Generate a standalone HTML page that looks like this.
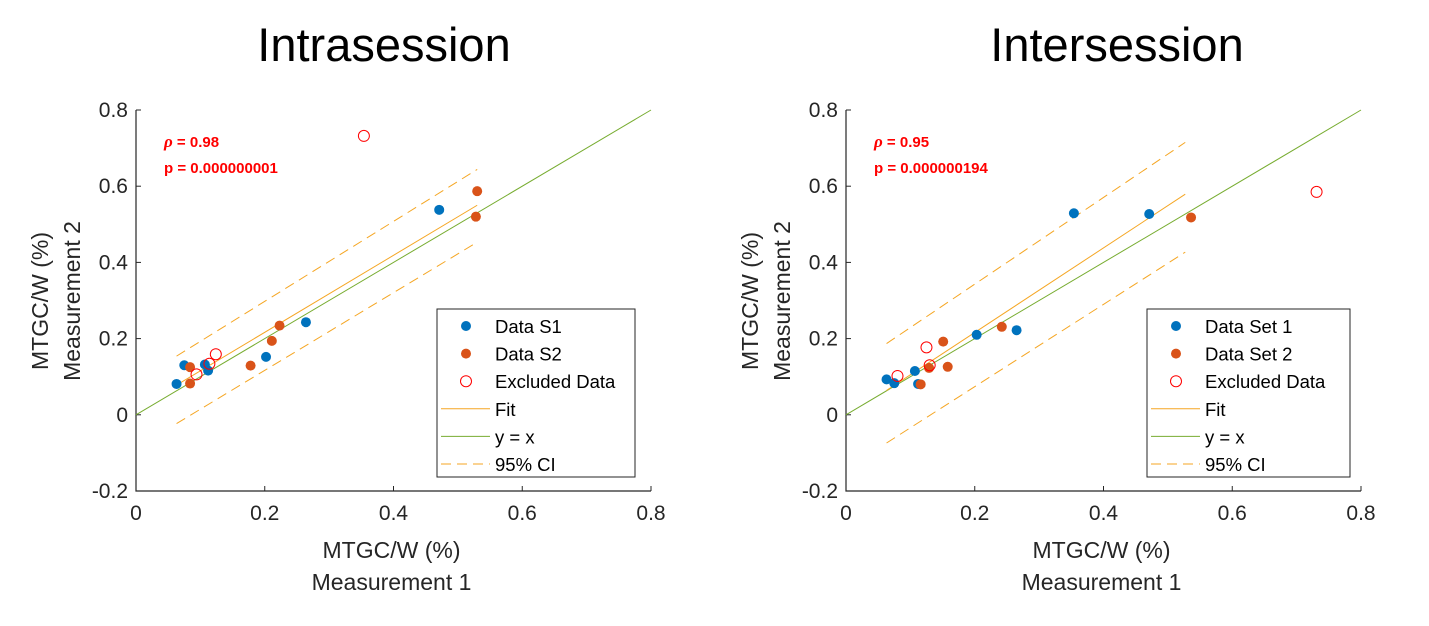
<!DOCTYPE html>
<html><head><meta charset="utf-8"><style>
body{margin:0;background:#fff;}
svg{display:block;font-family:"Liberation Sans",Arial,sans-serif;}
</style></head><body>
<svg id="fig" width="1429" height="626"></svg>
<script>
// Left panel data (Intrasession)
const leftS1X=[0.063,0.075,0.107,0.112,0.202,0.264,0.471];
const leftS1Y=[0.081,0.130,0.132,0.116,0.152,0.243,0.538];
const leftS2X=[0.084,0.084,0.178,0.211,0.223,0.530,0.528];
const leftS2Y=[0.125,0.082,0.129,0.194,0.234,0.587,0.520];
const leftExX=[0.124,0.114,0.094,0.354];
const leftExY=[0.159,0.134,0.106,0.732];
const leftFitX=[0.063,0.53];
const leftFitY=[0.078,0.550];
const leftCiUpY=[0.154,0.644];
const leftCiLoY=[-0.023,0.453];
// Right panel data (Intersession)
const rightS1X=[0.063,0.075,0.107,0.112,0.203,0.265,0.354,0.471];
const rightS1Y=[0.093,0.083,0.115,0.081,0.210,0.222,0.529,0.527];
const rightS2X=[0.116,0.129,0.158,0.151,0.242,0.536];
const rightS2Y=[0.080,0.123,0.126,0.192,0.231,0.518];
const rightExX=[0.080,0.125,0.130,0.731];
const rightExY=[0.102,0.177,0.130,0.585];
const rightFitX=[0.063,0.527];
const rightFitY=[0.064,0.579];
const rightCiUpY=[0.187,0.715];
const rightCiLoY=[-0.074,0.427];
const xTicks=[0,0.2,0.4,0.6,0.8];
const yTicks=[-0.2,0,0.2,0.4,0.6,0.8];
const xTickLabels=["0","0.2","0.4","0.6","0.8"];
const yTickLabels=["-0.2","0","0.2","0.4","0.6","0.8"];

const NS="http://www.w3.org/2000/svg";
const svg=document.getElementById('fig');
function mk(tag,attrs,parent,text){const e=document.createElementNS(NS,tag);for(const k in attrs)e.setAttribute(k,attrs[k]);if(text!==undefined)e.textContent=text;(parent||svg).appendChild(e);return e;}

function panel(o){
  const g=mk('g',{});
  
  
  const W=515;
  const L=o.left,R=o.left+W,T=110,B=491;
  const sx=v=>L+(v/0.8)*W;
  const sy=v=>B-((v+0.2)/1.0)*(B-T);
  const t=mk('text',{x:o.tx,y:61,'text-anchor':'middle','font-size':47,fill:'#000'},g,o.title);
  
  
  const ax=mk('path',{d:`M${L},${T}V${B}H${R}`,stroke:'#262626','stroke-width':1.2,fill:'none'},g);
  
  
  xTicks.forEach((v,i)=>{
    mk('line',{x1:sx(v),x2:sx(v),y1:B,y2:B-5,stroke:'#262626'},g);
    const tl=mk('text',{x:sx(v),y:B+29,'text-anchor':'middle','font-size':21,fill:'#262626'},g,xTickLabels[i]);
    
    
  });
  yTicks.forEach((v,i)=>{
    mk('line',{x1:L,x2:L+5,y1:sy(v),y2:sy(v),stroke:'#262626'},g);
    const tl=mk('text',{x:L-8,y:sy(v)+7,'text-anchor':'end','font-size':21,fill:'#262626'},g,yTickLabels[i]);
    
    
  });
  const xl1=mk('text',{x:(L+R)/2-2,y:558,'text-anchor':'middle','font-size':23,fill:'#262626'},g,'MTGC/W (%)');
  
  
  const xl2=mk('text',{x:(L+R)/2-2,y:590,'text-anchor':'middle','font-size':23,fill:'#262626'},g,'Measurement 1');
  
  
  const yl=mk('text',{transform:`translate(${L-88},301) rotate(-90)`,'text-anchor':'middle','font-size':23,fill:'#262626'},g);
  
  
  mk('tspan',{x:0,y:0},yl,'MTGC/W (%)');
  mk('tspan',{x:0,y:32},yl,'Measurement 2');
  const yx=mk('line',{x1:sx(0),y1:sy(0),x2:sx(0.8),y2:sy(0.8),stroke:'#77AC30','stroke-width':1},g);
  
  
  const fit=mk('line',{x1:sx(o.fx[0]),y1:sy(o.fy[0]),x2:sx(o.fx[1]),y2:sy(o.fy[1]),stroke:'#F5A623','stroke-width':1},g);
  
  
  const cu=mk('line',{x1:sx(o.fx[0]),y1:sy(o.cu[0]),x2:sx(o.fx[1]),y2:sy(o.cu[1]),stroke:'#F5A623','stroke-width':1,'stroke-dasharray':'10,6'},g);
  
  
  const cl=mk('line',{x1:sx(o.fx[0]),y1:sy(o.cl[0]),x2:sx(o.fx[1]),y2:sy(o.cl[1]),stroke:'#F5A623','stroke-width':1,'stroke-dasharray':'10,6'},g);
  
  
  o.s1x.forEach((v,i)=>{const c=mk('circle',{cx:sx(v),cy:sy(o.s1y[i]),r:5,fill:'#0072BD'},g);
    
    });
  o.s2x.forEach((v,i)=>{const c=mk('circle',{cx:sx(v),cy:sy(o.s2y[i]),r:5,fill:'#D95319'},g);
    
    });
  o.ex.forEach((v,i)=>{const c=mk('circle',{cx:sx(v),cy:sy(o.ey[i]),r:5.5,fill:'none',stroke:'#FF0000','stroke-width':1},g);
    
    });
  const a1=mk('text',{x:L+28,y:147,'font-size':15,'font-weight':'bold',fill:'#FF0000'},g);
  
  
  mk('tspan',{'font-style':'italic','font-family':'"Liberation Serif",serif','font-size':17},a1,'ρ');
  mk('tspan',{},a1,' = '+o.rho);
  const a2=mk('text',{x:L+28,y:173,'font-size':15,'font-weight':'bold',fill:'#FF0000'},g,'p = '+o.p);
  
  
  const lx=o.lgx, ly=309, lw=o.lgw;
  const lg=mk('g',{},g);
  
  
  mk('rect',{x:lx,y:ly,width:lw,height:168,fill:'#fff',stroke:'#262626','stroke-width':1},lg);
  const rows=[o.lab1,o.lab2,'Excluded Data','Fit','y = x','95% CI'];
  rows.forEach((r,i)=>{
    const cy=ly+17+i*27.6;
    if(i===0)mk('circle',{cx:lx+29,cy:cy,r:5,fill:'#0072BD'},lg);
    if(i===1)mk('circle',{cx:lx+29,cy:cy,r:5,fill:'#D95319'},lg);
    if(i===2)mk('circle',{cx:lx+29,cy:cy,r:5.5,fill:'none',stroke:'#FF0000'},lg);
    if(i===3)mk('line',{x1:lx+4,x2:lx+53,y1:cy,y2:cy,stroke:'#F5A623'},lg);
    if(i===4)mk('line',{x1:lx+4,x2:lx+53,y1:cy,y2:cy,stroke:'#77AC30'},lg);
    if(i===5)mk('line',{x1:lx+4,x2:lx+53,y1:cy,y2:cy,stroke:'#F5A623','stroke-dasharray':'10,6'},lg);
    const e=mk('text',{x:lx+58,y:cy+7,'font-size':18.5,fill:'#000'},lg,r);
    
    
  });
}
panel({name:'intrasession-chart',title:'Intrasession',tx:384,left:136,s1x:leftS1X,s1y:leftS1Y,s2x:leftS2X,s2y:leftS2Y,ex:leftExX,ey:leftExY,fx:leftFitX,fy:leftFitY,cu:leftCiUpY,cl:leftCiLoY,rho:'0.98',p:'0.000000001',lab1:'Data S1',lab2:'Data S2',lgx:437,lgw:198});
panel({name:'intersession-chart',title:'Intersession',tx:1117,left:846,s1x:rightS1X,s1y:rightS1Y,s2x:rightS2X,s2y:rightS2Y,ex:rightExX,ey:rightExY,fx:rightFitX,fy:rightFitY,cu:rightCiUpY,cl:rightCiLoY,rho:'0.95',p:'0.000000194',lab1:'Data Set 1',lab2:'Data Set 2',lgx:1147,lgw:203});
</script>
</body></html>
